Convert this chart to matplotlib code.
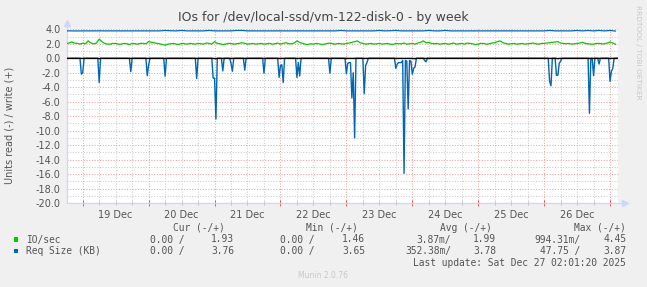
import numpy as np
import matplotlib
matplotlib.use("Agg")
import matplotlib.pyplot as plt
from matplotlib.patches import Rectangle
from matplotlib.ticker import FormatStrFormatter

# ---------------- data (hours since 19 Dec 00:00) ----------------
title = "IOs for /dev/local-ssd/vm-122-disk-0 - by week"
y_label = "Units read (-) / write (+)"
day_labels = ["19 Dec", "20 Dec", "21 Dec", "22 Dec", "23 Dec", "24 Dec", "25 Dec", "26 Dec"]
day_label_hours = [12, 36, 60, 84, 108, 132, 156, 180]
y_ticks = [4, 2, 0, -2, -4, -6, -8, -10, -12, -14, -16, -18, -20]

# IO/sec write (positive), 1-hour samples starting at -6 h
io_write_hours = list(range(-6, 195, 1))
io_write = [2.00, 2.10, 2.25, 2.10, 2.05, 1.95, 2.10, 2.00, 2.40, 2.10,
            2.00, 2.10, 2.65, 2.30, 2.05, 1.95, 1.95, 2.05, 2.05, 1.95,
            1.95, 2.05, 2.00, 1.90, 2.05, 2.00, 1.95, 2.05, 2.05, 2.00,
            2.30, 2.20, 2.15, 2.05, 2.00, 1.90, 1.80, 1.95, 2.00, 2.05,
            1.95, 1.90, 2.05, 2.00, 1.95, 2.05, 2.00, 1.95, 2.05, 2.00,
            1.95, 2.10, 2.05, 1.95, 2.30, 2.05, 2.00, 1.90, 1.95, 2.05,
            2.05, 1.95, 2.00, 2.05, 2.15, 2.05, 1.95, 2.00, 2.05, 1.95,
            2.00, 2.05, 1.95, 2.00, 2.05, 1.95, 2.00, 2.10, 1.95, 2.05,
            2.15, 2.00, 2.00, 2.10, 2.40, 2.20, 2.05, 1.95, 1.90, 2.00,
            1.95, 2.05, 2.00, 1.90, 1.95, 2.05, 2.10, 2.00, 1.95, 2.05,
            2.00, 1.95, 2.05, 2.10, 2.20, 2.30, 2.40, 2.15, 2.05, 1.95,
            2.00, 2.05, 1.95, 2.00, 2.05, 1.95, 2.00, 2.05, 1.95, 1.90,
            2.05, 2.00, 2.00, 2.10, 1.95, 2.00, 2.05, 1.95, 2.10, 2.20,
            2.40, 2.15, 2.20, 2.05, 2.00, 2.05, 1.95, 2.00, 2.05, 1.95,
            2.00, 2.10, 1.95, 2.00, 2.05, 1.95, 2.10, 2.05, 2.00, 1.90,
            1.95, 2.05, 2.05, 1.95, 2.00, 2.10, 2.15, 2.30, 2.40, 2.15,
            2.05, 1.95, 2.00, 2.05, 1.95, 2.00, 2.05, 1.95, 2.00, 2.05,
            2.10, 2.00, 1.95, 2.05, 2.05, 2.10, 2.15, 2.20, 2.25, 2.30,
            2.10, 2.05, 2.00, 2.05, 1.95, 2.00, 2.05, 2.10, 2.20, 2.05,
            2.00, 1.95, 1.95, 2.05, 2.05, 2.00, 2.00, 2.10, 2.25, 2.10,
            1.93]

# Req Size write (positive), 2-hour samples starting at -6 h
req_write_hours = list(range(-6, 195, 2))
req_write = [3.78, 3.78, 3.77, 3.78, 3.78, 3.78, 3.79, 3.78, 3.78, 3.78,
             3.78, 3.78, 3.78, 3.78, 3.78, 3.78, 3.78, 3.78, 3.84, 3.80,
             3.78, 3.84, 3.78, 3.78, 3.78, 3.78, 3.84, 3.78, 3.78, 3.78,
             3.78, 3.84, 3.84, 3.78, 3.78, 3.78, 3.78, 3.78, 3.78, 3.78,
             3.78, 3.78, 3.78, 3.78, 3.78, 3.78, 3.78, 3.78, 3.78, 3.78,
             3.84, 3.78, 3.78, 3.78, 3.78, 3.78, 3.78, 3.84, 3.78, 3.80,
             3.84, 3.78, 3.78, 3.78, 3.78, 3.78, 3.84, 3.78, 3.78, 3.84,
             3.78, 3.78, 3.78, 3.78, 3.78, 3.78, 3.78, 3.78, 3.78, 3.78,
             3.78, 3.78, 3.78, 3.78, 3.78, 3.78, 3.78, 3.78, 3.84, 3.78,
             3.78, 3.78, 3.78, 3.84, 3.78, 3.84, 3.78, 3.84, 3.78, 3.84,
             3.76]

# read side (negative), Req Size spikes
req_read_hours = [-5.7, -1.0, -0.5, 0.0, 0.5, 5.5, 6.0, 6.5, 17.0, 17.5, 18.0,
                  23.0, 23.5, 24.0, 24.5, 29.5, 30.0, 30.5, 41.0, 41.5, 42.0,
                  47.0, 47.5, 48.0, 48.5, 49.0, 50.5, 51.0, 51.5,
                  53.5, 54.0, 54.5, 55.0, 58.5, 59.0, 59.5, 65.5, 66.0, 66.5,
                  71.0, 71.5, 72.0, 72.5, 73.0, 73.5, 77.5, 78.0, 78.5, 79.0, 79.5,
                  89.5, 90.0, 90.5, 95.5, 96.0, 96.5, 97.0, 97.5, 98.0, 98.5, 99.0, 99.5,
                  102.0, 102.5, 103.0, 103.5, 104.0,
                  113.5, 114.0, 114.5, 115.0, 115.5, 116.0, 116.5, 117.0, 117.5,
                  118.0, 118.5, 119.0, 119.5, 120.0, 120.5, 121.0, 121.5,
                  124.0, 124.5, 125.0, 125.5,
                  169.5, 170.0, 170.5, 171.0, 172.0, 172.5, 173.0, 173.5, 174.0, 174.5,
                  184.0, 184.5, 185.0, 185.5, 186.0, 186.5, 187.5, 188.0, 188.5,
                  191.5, 192.0, 192.5, 193.0, 193.5, 194.9]
req_read = [0.0, 0.0, -2.2, -2.0, 0.0, 0.0, -3.35, 0.0, 0.0, -1.85, 0.0,
            0.0, -2.4, -0.9, 0.0, 0.0, -2.5, 0.0, 0.0, -2.8, 0.0,
            0.0, -2.75, -2.75, -8.4, 0.0, 0.0, -1.75, 0.0,
            0.0, -0.7, -1.8, 0.0, 0.0, -1.65, 0.0, 0.0, -2.07, 0.0,
            0.0, -2.65, -1.0, -0.9, -3.35, 0.0, 0.0, -2.65, -0.6, -2.45, 0.0,
            0.0, -2.07, 0.0, 0.0, -2.15, -0.7, -0.6, -0.6, -5.5, -2.0, -11.0, 0.0,
            0.0, -4.9, -1.0, -0.6, 0.0,
            0.0, -1.4, -0.8, -0.6, -0.6, -0.6, -0.3, -15.9, -0.3,
            -0.4, -7.0, -0.3, -0.4, -2.2, -1.4, -1.2, 0.0,
            0.0, -0.3, -0.5, 0.0,
            0.0, -3.2, -3.8, 0.0, 0.0, -2.35, -2.35, -0.7, -0.4, 0.0,
            0.0, -7.6, 0.0, 0.0, -2.4, 0.0, 0.0, -0.8, 0.0,
            0.0, -3.2, -1.8, -1.4, 0.0, 0.0]

# read side (negative), IO/sec (tiny)
io_read_hours = [-5.7, 5.5, 6.0, 6.5, 47.5, 48.5, 49.0, 120.0, 121.0, 121.5, 172.5, 173.0, 173.5, 194.9]
io_read = [0.0, 0.0, -0.1, 0.0, 0.0, -0.12, 0.0, 0.0, -0.1, 0.0, 0.0, -0.1, 0.0, 0.0]

# legend table
legend_header = ["Cur (-/+)", "Min (-/+)", "Avg (-/+)", "Max (-/+)"]
legend_names = ["IO/sec", "Req Size (KB)"]
legend_values = [
    ["0.00 /", "1.93", "0.00 /", "1.46", "3.87m/", "1.99", "994.31m/", "4.45"],
    ["0.00 /", "3.76", "0.00 /", "3.65", "352.38m/", "3.78", "47.75 /", "3.87"],
]
last_update = "Last update: Sat Dec 27 02:01:20 2025"
munin_version = "Munin 2.0.76"
side_text = "RRDTOOL / TOBI OETIKER"

GREEN = "#00CC00"
BLUE = "#0066B3"

# ---------------- figure ----------------
W, H = 647, 287
fig = plt.figure(figsize=(W / 100, H / 100), dpi=100, facecolor="#F0F0F0")
L, R, T, B = 67, 618, 29.3, 203
ax = fig.add_axes([L / W, 1 - B / H, (R - L) / W, (B - T) / H])
ax.set_facecolor("white")
ax.set_xlim(-5.72, 194.9)
ax.set_ylim(-20, 4)
for s in ax.spines.values():
    s.set_visible(False)

RED_GRID = "#F0A0A0"
GRAY_GRID = "#CCCCCC"
dot = (0, (1, 1.6))
for yv in range(-20, 5):
    if yv % 2 == 0:
        ax.axhline(yv, color=RED_GRID, lw=0.75, ls=dot, zorder=1)
    else:
        ax.axhline(yv, color=GRAY_GRID, lw=0.75, ls=dot, zorder=0.5)
for hv in range(0, 195, 6):
    if hv % 24 == 0:
        ax.axvline(hv, color=RED_GRID, lw=0.75, ls=dot, zorder=1)
    else:
        ax.axvline(hv, color=GRAY_GRID, lw=0.75, ls=dot, zorder=0.5)

# tick marks on the bottom axis
minor_h = [h for h in range(0, 195, 6) if h % 24]
major_h = [h for h in range(0, 195, 24)]
ax.vlines(minor_h, -0.012, 0.012, transform=ax.get_xaxis_transform(), color="#BBBBBB", lw=0.7, clip_on=False)
ax.vlines(major_h, -0.015, 0.015, transform=ax.get_xaxis_transform(), color="#E06060", lw=0.7, clip_on=False)

ax.set_yticks(y_ticks)
ax.yaxis.set_major_formatter(FormatStrFormatter("%.1f"))
ax.set_xticks(day_label_hours, labels=day_labels)
ax.tick_params(axis="both", length=0, labelsize=7, labelcolor="#555555")
ax.tick_params(axis="y", pad=4.5)
ax.tick_params(axis="x", pad=5)

# axis lines + arrows
AX = "#CFD6F8"
ax.plot([0, 0], [0, 1.03], transform=ax.transAxes, color=AX, lw=0.9, clip_on=False, zorder=2)
ax.plot([0, 1.01], [0, 0], transform=ax.transAxes, color=AX, lw=0.9, clip_on=False, zorder=2)
ax.plot([0], [1.035], marker="^", ms=4, color=AX, transform=ax.transAxes, clip_on=False)
ax.plot([1.012], [0], marker=">", ms=4, color=AX, transform=ax.transAxes, clip_on=False)

# data
ax.plot(io_read_hours, io_read, color=GREEN, lw=0.9, zorder=3)
ax.plot(io_write_hours, io_write, color=GREEN, lw=0.9, zorder=3)
ax.plot(req_read_hours, req_read, color=BLUE, lw=1.0, zorder=4)
ax.plot(req_write_hours, req_write, color=BLUE, lw=0.9, zorder=4)
ax.axhline(0, color="black", lw=0.9, zorder=5)

# texts
def ft(x, y, s, **kw):
    fig.text(x / W, 1 - y / H, s, **kw)

ft(323.5, 17.5, title, ha="center", va="center", fontsize=9, color="#444444")
ft(10, 125, y_label, ha="center", va="center", rotation=90, fontsize=7, color="#555555")
ft(638, 52, side_text, ha="center", va="center", rotation=270, fontsize=5.3, color="#C8C8C8")

mono = dict(family="DejaVu Sans Mono", fontsize=6.9, color="#555555", va="center")
header_right = [225, 358, 492, 626]
for s, xr in zip(legend_header, header_right):
    ft(xr, 228, s, ha="right", **mono)
value_right = [185, 234, 315, 365, 451, 496, 580, 626]
row_y = [239.5, 251.2]
for name, vals, yy, col in zip(legend_names, legend_values, row_y, [GREEN, BLUE]):
    fig.patches.append(Rectangle((14 / W, 1 - (yy + 2.2) / H), 4.4 / W, 4.4 / H,
                                 transform=fig.transFigure, facecolor=col, edgecolor="none"))
    ft(26.5, yy, name, ha="left", **mono)
    for s, xr in zip(vals, value_right):
        ft(xr, yy, s, ha="right", **mono)
ft(626, 263.5, last_update, ha="right", **mono)
ft(323, 276, munin_version, ha="center", va="center", fontsize=5.5, color="#C8C8C8")

fig.savefig("out.png", dpi=100, facecolor=fig.get_facecolor())
